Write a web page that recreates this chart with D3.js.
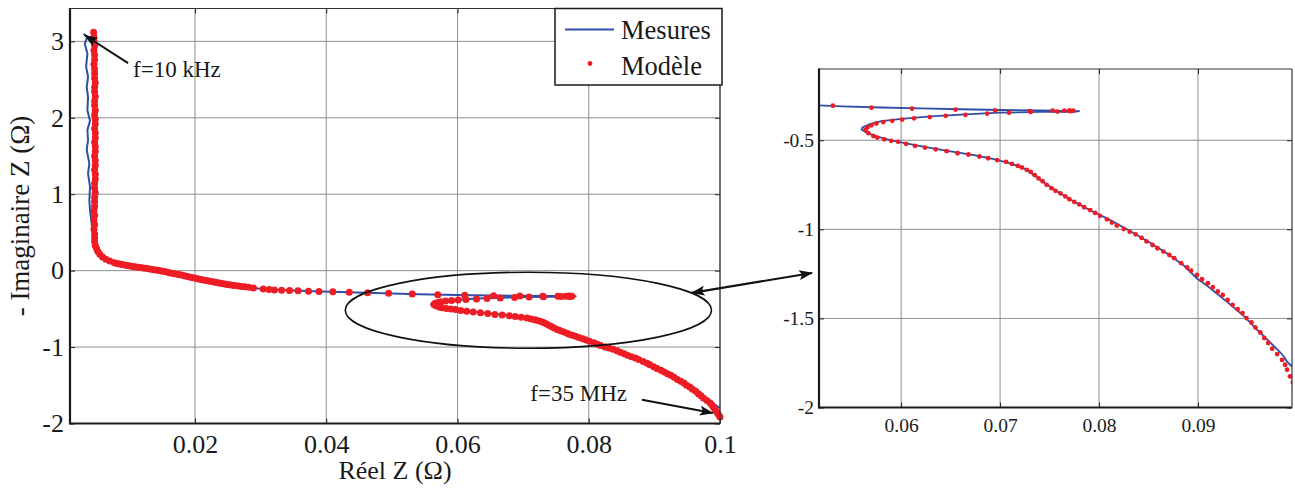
<!DOCTYPE html>
<html><head><meta charset="utf-8">
<script src="https://cdn.jsdelivr.net/npm/d3@7"></script>
<style>
body{margin:0;background:#fff}
svg{display:block}
text{font-family:"Liberation Serif","Times New Roman",serif;fill:#1a1a1a}
</style>
</head><body><svg id="c" width="1295" height="493"></svg>
<script>
// ---------- data ----------
const xTicksMain = [0.02, 0.04, 0.06, 0.08, 0.1];
const xTickLabelsMain = ["0.02", "0.04", "0.06", "0.08", "0.1"];
const yTicksMain = [-2, -1, 0, 1, 2, 3];
const yTickLabelsMain = ["-2", "-1", "0", "1", "2", "3"];
const xTicksZoom = [0.06, 0.07, 0.08, 0.09];
const xTickLabelsZoom = ["0.06", "0.07", "0.08", "0.09"];
const yTicksZoom = [-2, -1.5, -1, -0.5];
const yTickLabelsZoom = ["-2", "-1.5", "-1", "-0.5"];
const seriesNames = ["Mesures", "Modèle"];

// Mesures : [Re Z, -Im Z]
const measured = [
 [0.0030,3.10],[0.0036,3.06],[0.0032,2.97],[0.0036,2.84],[0.0034,2.67],[0.0037,2.54],
 [0.0035,2.40],[0.0037,2.27],[0.0036,2.10],[0.0040,1.96],[0.0036,1.84],[0.0037,1.71],
 [0.0035,1.58],[0.0039,1.40],[0.0037,1.27],[0.0040,1.10],[0.0039,0.92],[0.0040,0.79],
 [0.0042,0.65],[0.0044,0.50],[0.0047,0.40],[0.0051,0.30],[0.0058,0.215],[0.0069,0.145],
 [0.0086,0.09],[0.0111,0.048],[0.0136,0.014],[0.0162,-0.026],[0.0187,-0.07],[0.0205,-0.105],
 [0.0240,-0.165],[0.0270,-0.206],[0.0300,-0.236],[0.0340,-0.258],[0.0380,-0.27],[0.0420,-0.28],
 [0.0460,-0.29],[0.0500,-0.30],[0.0540,-0.31],[0.0580,-0.316],[0.0620,-0.321],[0.0660,-0.326],
 [0.0700,-0.33],[0.0740,-0.333],[0.0780,-0.336],[0.0775,-0.34],[0.0740,-0.341],[0.0700,-0.345],
 [0.0665,-0.355],[0.0630,-0.366],[0.0600,-0.38],[0.0580,-0.393],[0.0568,-0.41],[0.0561,-0.428],
 [0.0560,-0.44],[0.0565,-0.458],[0.0575,-0.478],[0.0590,-0.50],[0.0605,-0.518],[0.0625,-0.538],
 [0.0650,-0.562],[0.0675,-0.585],[0.0695,-0.607],[0.0710,-0.63],[0.0722,-0.652],[0.0733,-0.69],
 [0.0745,-0.74],[0.0757,-0.785],[0.0770,-0.83],[0.0790,-0.89],[0.0810,-0.944],[0.0830,-1.005],
 [0.0850,-1.07],[0.0870,-1.14],[0.0885,-1.20],[0.0899,-1.276],[0.0910,-1.32],[0.0919,-1.36],
 [0.0930,-1.41],[0.0947,-1.49],[0.0960,-1.565],[0.0974,-1.64],[0.0983,-1.69],[0.0987,-1.715],
 [0.0990,-1.743],[0.0995,-1.77],[0.1000,-1.80]
];

// Modèle : [Re Z, -Im Z]
const model = [
 [0.00455,3.12],[0.0046,3.06],[0.0046,3.00],[0.0047,2.94],[0.0046,2.88],[0.0047,2.82],
 [0.0047,2.76],[0.0046,2.70],[0.0047,2.64],[0.0047,2.58],[0.0047,2.52],[0.0048,2.46],
 [0.0047,2.40],[0.0047,2.34],[0.0048,2.28],[0.0047,2.22],[0.0047,2.16],[0.0048,2.10],
 [0.0047,2.04],[0.0048,1.98],[0.0048,1.92],[0.0047,1.86],[0.0048,1.80],[0.0048,1.74],
 [0.0047,1.68],[0.0048,1.62],[0.0048,1.56],[0.0047,1.50],[0.0048,1.44],[0.0048,1.38],
 [0.0047,1.32],[0.0048,1.26],[0.0048,1.20],[0.0047,1.14],[0.0047,1.08],[0.0048,1.02],
 [0.0047,0.96],[0.0047,0.90],[0.0047,0.84],[0.0046,0.78],[0.0047,0.72],[0.0046,0.66],
 [0.0047,0.60],[0.0046,0.54],[0.0047,0.48],[0.0047,0.43],[0.0047,0.38],[0.0048,0.33],
 [0.0050,0.29],[0.0052,0.25],[0.0055,0.215],[0.0059,0.18],[0.0064,0.15],[0.0070,0.125],
 [0.0077,0.104],[0.0081,0.095],[0.0085,0.087],[0.0089,0.080],[0.0093,0.073],[0.0097,0.067],
 [0.0101,0.061],[0.0105,0.055],[0.0109,0.050],[0.0113,0.045],[0.0117,0.040],[0.0121,0.035],
 [0.0125,0.030],[0.0129,0.025],[0.0133,0.019],[0.0137,0.013],[0.0141,0.007],[0.0145,0.001],
 [0.0149,-0.006],[0.0153,-0.012],[0.0157,-0.019],[0.0161,-0.026],[0.0165,-0.033],[0.0169,-0.040],
 [0.0173,-0.047],[0.0177,-0.054],[0.0181,-0.061],[0.0185,-0.069],[0.0189,-0.077],[0.0193,-0.085],
 [0.0197,-0.093],[0.0201,-0.101],[0.0205,-0.108],[0.0209,-0.115],[0.0213,-0.122],[0.0217,-0.129],
 [0.0221,-0.136],[0.0225,-0.143],[0.0229,-0.150],[0.0233,-0.156],[0.0237,-0.162],[0.0241,-0.168],
 [0.0245,-0.174],[0.0249,-0.180],[0.0253,-0.185],[0.0257,-0.190],[0.0261,-0.195],[0.0266,-0.201],
 [0.0271,-0.206],[0.0276,-0.211],[0.0282,-0.218],[0.0289,-0.226],[0.0304,-0.24],[0.0313,-0.247],
 [0.0321,-0.252],[0.0332,-0.256],[0.0344,-0.26],[0.0357,-0.264],[0.0373,-0.268],[0.0389,-0.272],
 [0.0410,-0.277],[0.0435,-0.283],[0.0463,-0.29],[0.0495,-0.297],[0.0531,-0.306],[0.0570,-0.317],
 [0.0611,-0.322],[0.0655,-0.328],[0.0695,-0.333],[0.0730,-0.336],[0.0753,-0.334],[0.0765,-0.334],
 [0.0770,-0.333],[0.0774,-0.334],[0.0771,-0.337],[0.0758,-0.339],[0.0731,-0.341],[0.0709,-0.345],
 [0.0687,-0.35],[0.0665,-0.357],[0.0645,-0.363],[0.0629,-0.37],[0.0613,-0.377],[0.0601,-0.384],
 [0.0591,-0.391],[0.0582,-0.398],[0.0575,-0.406],[0.0570,-0.416],[0.0566,-0.428],[0.0564,-0.442],
 [0.0567,-0.46],[0.0572,-0.476],[0.0576,-0.485],[0.0583,-0.495],[0.0590,-0.503],[0.0597,-0.509],
 [0.0605,-0.52],[0.0614,-0.532],[0.0624,-0.541],[0.0635,-0.551],[0.0646,-0.561],[0.0657,-0.573],
 [0.0668,-0.58],[0.0679,-0.591],[0.0688,-0.601],[0.0697,-0.611],[0.0706,-0.621],[0.0712,-0.633],
 [0.0718,-0.644],[0.0722,-0.653],[0.0727,-0.666],[0.0731,-0.677],[0.0735,-0.696],[0.0739,-0.714],
 [0.0743,-0.73],[0.0747,-0.75],[0.0752,-0.769],[0.0756,-0.784],[0.0761,-0.798],[0.0766,-0.815],
 [0.0770,-0.831],[0.0775,-0.846],[0.0780,-0.86],[0.0785,-0.876],[0.0791,-0.892],[0.0796,-0.908],
 [0.0801,-0.924],[0.0808,-0.944],[0.0813,-0.962],[0.0818,-0.979],[0.0825,-0.998],[0.0831,-1.013],
 [0.0837,-1.028],[0.0843,-1.048],[0.0848,-1.068],[0.0854,-1.088],[0.0859,-1.106],[0.0865,-1.125],
 [0.0871,-1.144],[0.0876,-1.162],[0.0883,-1.19],[0.0889,-1.213],[0.0893,-1.232],[0.0899,-1.256],
 [0.0904,-1.28],[0.0910,-1.302],[0.0915,-1.325],[0.0920,-1.349],[0.0925,-1.368],[0.0930,-1.396],
 [0.0935,-1.424],[0.0940,-1.448],[0.0945,-1.47],[0.0949,-1.498],[0.0954,-1.523],[0.0958,-1.551],
 [0.0963,-1.579],[0.0967,-1.61],[0.0971,-1.638],[0.0975,-1.67],[0.0980,-1.70],[0.0985,-1.733],
 [0.0988,-1.76],[0.0990,-1.788],[0.0993,-1.825],[0.0996,-1.86],[0.0998,-1.89],[0.1000,-1.915]
];

// ---------- drawing ----------
const svg = d3.select("#c");
svg.append("rect").attr("width",1295).attr("height",493).attr("fill","#fff");
const BLUE = "#2f4fa6", RED = "#ee1c25", GRID = "#8f8f8f";

const defs = svg.append("defs");
defs.append("marker").attr("id","ah").attr("viewBox","0 0 14 10")
  .attr("refX",13).attr("refY",5).attr("markerWidth",14).attr("markerHeight",10)
  .attr("markerUnits","userSpaceOnUse").attr("orient","auto-start-reverse")
  .append("path").attr("d","M0,0 L14,5 L0,10 L3,5 Z").attr("fill","#111");

function panel(cfg){
  const x = d3.scaleLinear().domain(cfg.xd).range(cfg.xr);
  const y = d3.scaleLinear().domain(cfg.yd).range(cfg.yr);
  const g = svg.append("g");
  const [x0,x1] = cfg.xr, [y0,y1] = cfg.yr; // y0 bottom, y1 top
  g.selectAll(".gx").data(cfg.xt).join("line")
    .attr("x1",d=>x(d)).attr("x2",d=>x(d)).attr("y1",y0).attr("y2",y1)
    .attr("stroke",GRID).attr("stroke-width",1);
  g.selectAll(".gy").data(cfg.yt).join("line")
    .attr("x1",x0).attr("x2",x1).attr("y1",d=>y(d)).attr("y2",d=>y(d))
    .attr("stroke",GRID).attr("stroke-width",1);
  const cid = "clip"+cfg.id;
  defs.append("clipPath").attr("id",cid).append("rect")
    .attr("x",x0).attr("y",y1).attr("width",x1-x0).attr("height",y0-y1);
  const dg = g.append("g");
  if (cfg.clip) dg.attr("clip-path",`url(#${cid})`);
  dg.append("path").datum(measured)
    .attr("d", d3.line().x(d=>x(d[0])).y(d=>y(d[1])).curve(d3.curveLinear))
    .attr("fill","none").attr("stroke",BLUE).attr("stroke-width",cfg.lw)
    .attr("stroke-linejoin","round");
  dg.selectAll("circle").data(model).join("circle")
    .attr("cx",d=>x(d[0])).attr("cy",d=>y(d[1])).attr("r",cfg.r).attr("fill",RED);
  const fs = cfg.fs;
  const ax = g.append("g").attr("transform",`translate(0,${y0})`)
    .call(d3.axisBottom(x).tickValues(cfg.xt).tickFormat((d,i)=>cfg.xl[i])
      .tickSizeInner(-5).tickSizeOuter(0).tickPadding(cfg.xpad));
  const ay = g.append("g").attr("transform",`translate(${x0},0)`)
    .call(d3.axisLeft(y).tickValues(cfg.yt).tickFormat((d,i)=>cfg.yl[i])
      .tickSizeInner(-5).tickSizeOuter(0).tickPadding(cfg.ypad));
  const at = g.append("g").attr("transform",`translate(0,${y1})`)
    .call(d3.axisTop(x).tickValues(cfg.xt).tickFormat("").tickSizeInner(-5).tickSizeOuter(0));
  const ar = g.append("g").attr("transform",`translate(${x1},0)`)
    .call(d3.axisRight(y).tickValues(cfg.yt).tickFormat("").tickSizeInner(-5).tickSizeOuter(0));
  [ax,ay,at,ar].forEach(a=>{
    a.attr("font-family",null).attr("font-size",null);
    a.select(".domain").remove();
    a.selectAll("line").attr("stroke","#222").attr("stroke-width",1);
    a.selectAll("text").style("font-size",fs+"px")
      .style("font-family","'Liberation Serif','Times New Roman',serif").attr("fill","#1a1a1a");
  });
  g.append("line").attr("x1",x0).attr("x2",x1).attr("y1",y1).attr("y2",y1).attr("stroke","#333").attr("stroke-width",1.2);
  g.append("line").attr("x1",x1).attr("x2",x1).attr("y1",y1).attr("y2",y0).attr("stroke","#333").attr("stroke-width",1.2);
  g.append("line").attr("x1",x0).attr("x2",x1).attr("y1",y0).attr("y2",y0).attr("stroke","#1a1a1a").attr("stroke-width",2.2);
  g.append("line").attr("x1",x0).attr("x2",x0).attr("y1",y1-0.5).attr("y2",y0+1).attr("stroke","#1a1a1a").attr("stroke-width",2.2);
  return {x,y,g};
}

const M = panel({id:"m", xd:[0.00095,0.1], xr:[70,720], yd:[-2,3.43], yr:[423.5,8.5],
  xt:xTicksMain, xl:xTickLabelsMain, yt:yTicksMain, yl:yTickLabelsMain,
  fs:26, xpad:11, ypad:6, lw:2, r:3.5, clip:false});
const Z = panel({id:"z", xd:[0.0517,0.0995], xr:[819,1292], yd:[-2,-0.1], yr:[407.5,69],
  xt:xTicksZoom, xl:xTickLabelsZoom, yt:yTicksZoom, yl:yTickLabelsZoom,
  fs:19.5, xpad:11, ypad:5, lw:1.8, r:2.4, clip:true});

// axis titles
svg.append("text").attr("x",395).attr("y",479).attr("text-anchor","middle")
  .attr("font-size",26).text("Réel Z (Ω)");
svg.append("text").attr("transform","translate(29,216) rotate(-90)").attr("text-anchor","middle")
  .attr("font-size",27).text("- Imaginaire Z (Ω)");

// legend
const lg = svg.append("g");
lg.append("rect").attr("x",555).attr("y",8.5).attr("width",167).attr("height",76.5)
  .attr("fill","#fff").attr("stroke","#1a1a1a").attr("stroke-width",1.5);
lg.append("line").attr("x1",565).attr("x2",614).attr("y1",29.5).attr("y2",29.5)
  .attr("stroke",BLUE).attr("stroke-width",2.2);
lg.append("circle").attr("cx",590).attr("cy",63.5).attr("r",2.4).attr("fill",RED);
lg.append("text").attr("x",621).attr("y",39).attr("font-size",26.5).text(seriesNames[0]);
lg.append("text").attr("x",621).attr("y",75).attr("font-size",26.5).text(seriesNames[1]);

// annotations (main panel coordinates)
const mx = M.x, my = M.y;
svg.append("line").attr("x1",mx(0.0098)).attr("y1",my(2.715)).attr("x2",mx(0.0032)).attr("y2",my(3.08))
  .attr("stroke","#111").attr("stroke-width",2).attr("marker-end","url(#ah)");
svg.append("text").attr("x",mx(0.01056)).attr("y",my(2.535)).attr("font-size",23).text("f=10 kHz");
svg.append("line").attr("x1",mx(0.0881)).attr("y1",my(-1.69)).attr("x2",mx(0.0989)).attr("y2",my(-1.862))
  .attr("stroke","#111").attr("stroke-width",2).attr("marker-end","url(#ah)");
svg.append("text").attr("x",mx(0.0711)).attr("y",my(-1.712)).attr("font-size",23).text("f=35 MHz");
svg.append("ellipse").attr("cx",mx(0.0708)).attr("cy",my(-0.518))
  .attr("rx",mx(0.0708+0.0279)-mx(0.0708)).attr("ry",my(-0.518-0.497)-my(-0.518))
  .attr("fill","none").attr("stroke","#111").attr("stroke-width",1.6);
svg.append("line").attr("x1",mx(0.0957)).attr("y1",my(-0.29)).attr("x2",Z.x(0.0510)).attr("y2",Z.y(-1.245))
  .attr("stroke","#111").attr("stroke-width",2.2)
  .attr("marker-start","url(#ah)").attr("marker-end","url(#ah)");
</script>
</body></html>
